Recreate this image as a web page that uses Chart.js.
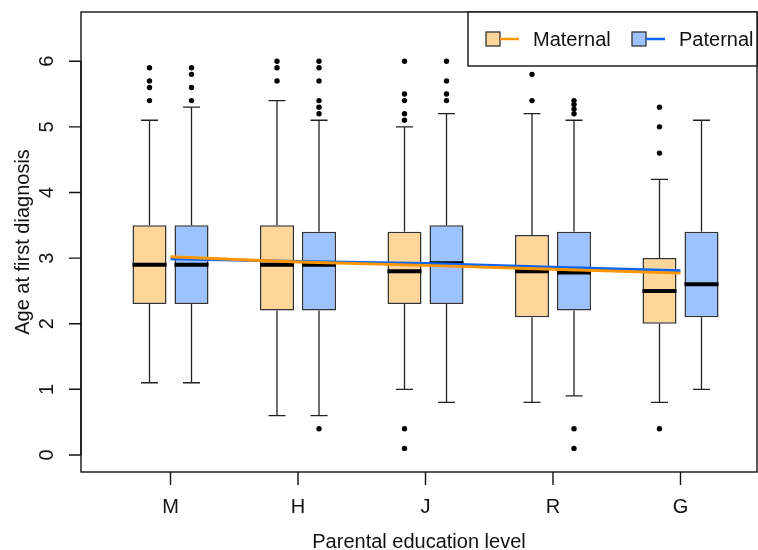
<!DOCTYPE html>
<html>
<head>
<meta charset="utf-8">
<title>Age at first diagnosis by parental education</title>
<script src="https://cdn.jsdelivr.net/npm/chart.js@4.4.1/dist/chart.umd.min.js"></script>
<style>
  html, body { margin: 0; padding: 0; background: #ffffff; }
  #wrap { width: 758px; height: 550px; }
</style>
</head>
<body>
<div id="wrap"><canvas id="boxChart" width="758" height="550"></canvas></div>
<script>
// --- 1. DATA ---
const categories = ['M', 'H', 'J', 'R', 'G'];
const categoryPos = [1, 2, 3, 4, 5];
const yTicks = [0, 1, 2, 3, 4, 5, 6];

const maternalLow = [1.1, 0.6, 1.0, 0.8, 0.8];
const maternalQ1 = [2.3, 2.2, 2.3, 2.1, 2.0];
const maternalMedian = [2.9, 2.9, 2.8, 2.8, 2.5];
const maternalQ3 = [3.5, 3.5, 3.4, 3.35, 3.0];
const maternalHigh = [5.1, 5.4, 5.0, 5.2, 4.2];
const maternalOutliers = [
    [5.4, 5.6, 5.7, 5.9],
    [5.7, 5.9, 6.0],
    [0.1, 0.4, 5.1, 5.2, 5.4, 5.5, 6.0],
    [5.4, 5.8],
    [0.4, 4.6, 5.0, 5.3]
];
const maternalMean = [3.02, 2.94, 2.89, 2.83, 2.77];

const paternalLow = [1.1, 0.6, 0.8, 0.9, 1.0];
const paternalQ1 = [2.3, 2.2, 2.3, 2.2, 2.1];
const paternalMedian = [2.9, 2.9, 2.92, 2.78, 2.6];
const paternalQ3 = [3.5, 3.4, 3.5, 3.4, 3.4];
const paternalHigh = [5.3, 5.1, 5.2, 5.1, 5.1];
const paternalOutliers = [
    [5.4, 5.6, 5.8, 5.9],
    [0.4, 5.2, 5.3, 5.4, 5.7, 5.9, 6.0],
    [5.4, 5.5, 5.7, 6.0],
    [0.1, 0.4, 5.2, 5.27, 5.34, 5.4],
    []
];
const paternalMean = [2.99, 2.95, 2.92, 2.86, 2.81];

// --- 2. STYLE ---
const FONT = "'Liberation Sans', Arial, Helvetica, sans-serif";
const matFill = '#FFD699';
const patFill = '#9DC3FF';
const matLine = '#FF9500';
const patLine = '#0A64F5';
const ink = '#111111';

const groups = {
    maternal: { low: maternalLow, q1: maternalQ1, med: maternalMedian, q3: maternalQ3, high: maternalHigh, out: maternalOutliers },
    paternal: { low: paternalLow, q1: paternalQ1, med: paternalMedian, q3: paternalQ3, high: paternalHigh, out: paternalOutliers }
};

function boxData(q1, q3) {
    return categoryPos.map((x, i) => ({ x: x, y: [q1[i], q3[i]] }));
}
function meanData(vals) {
    return categoryPos.map((x, i) => ({ x: x, y: vals[i] }));
}

// --- 3. PLUGIN: whiskers, medians, outliers, axes, legend ---
const boxExtras = {
    id: 'boxExtras',
    beforeDatasetsDraw(chart) {
        const ctx = chart.ctx;
        const y = chart.scales.y;
        chart.data.datasets.forEach((ds, di) => {
            if (!ds.group) return;
            const g = groups[ds.group];
            const meta = chart.getDatasetMeta(di);
            meta.data.forEach((bar, i) => {
                const x = bar.x;
                const cap = bar.width / 4;
                ctx.save();
                ctx.strokeStyle = '#222';
                ctx.lineWidth = 1.3;
                ctx.beginPath();
                ctx.moveTo(x, y.getPixelForValue(g.q3[i]));
                ctx.lineTo(x, y.getPixelForValue(g.high[i]));
                ctx.moveTo(x, y.getPixelForValue(g.q1[i]));
                ctx.lineTo(x, y.getPixelForValue(g.low[i]));
                ctx.moveTo(x - cap, y.getPixelForValue(g.high[i]));
                ctx.lineTo(x + cap, y.getPixelForValue(g.high[i]));
                ctx.moveTo(x - cap, y.getPixelForValue(g.low[i]));
                ctx.lineTo(x + cap, y.getPixelForValue(g.low[i]));
                ctx.stroke();
                ctx.fillStyle = '#000';
                g.out[i].forEach(v => {
                    ctx.beginPath();
                    ctx.arc(x, y.getPixelForValue(v), 2.7, 0, Math.PI * 2);
                    ctx.fill();
                });
                ctx.restore();
            });
        });
    },
    afterDatasetDraw(chart, args) {
        const ds = chart.data.datasets[args.index];
        if (!ds.group) return;
        const g = groups[ds.group];
        const ctx = chart.ctx;
        const y = chart.scales.y;
        ctx.save();
        ctx.strokeStyle = '#000';
        ctx.lineWidth = 4;
        args.meta.data.forEach((bar, i) => {
            const py = y.getPixelForValue(g.med[i]);
            ctx.beginPath();
            ctx.moveTo(bar.x - bar.width / 2, py);
            ctx.lineTo(bar.x + bar.width / 2, py);
            ctx.stroke();
        });
        ctx.restore();
    },
    afterDraw(chart) {
        const ctx = chart.ctx;
        const a = chart.chartArea;
        const xs = chart.scales.x;
        const ys = chart.scales.y;
        ctx.save();
        ctx.strokeStyle = ink;
        ctx.fillStyle = ink;
        ctx.lineWidth = 1.4;

        // plot box
        ctx.strokeRect(a.left, a.top, a.right - a.left, a.bottom - a.top);

        // y axis ticks and rotated labels
        ctx.font = '20px ' + FONT;
        ctx.beginPath();
        ctx.moveTo(a.left, ys.getPixelForValue(yTicks[0]));
        ctx.lineTo(a.left, ys.getPixelForValue(yTicks[yTicks.length - 1]));
        yTicks.forEach(t => {
            const py = ys.getPixelForValue(t);
            ctx.moveTo(a.left - 12, py);
            ctx.lineTo(a.left, py);
        });
        ctx.stroke();
        yTicks.forEach(t => {
            const py = ys.getPixelForValue(t);
            ctx.save();
            ctx.translate(a.left - 28, py);
            ctx.rotate(-Math.PI / 2);
            ctx.textAlign = 'center';
            ctx.textBaseline = 'alphabetic';
            ctx.fillText(String(t), 0, 0);
            ctx.restore();
        });

        // x axis ticks and labels
        ctx.beginPath();
        categoryPos.forEach(p => {
            const px = xs.getPixelForValue(p);
            ctx.moveTo(px, a.bottom);
            ctx.lineTo(px, a.bottom + 13);
        });
        ctx.stroke();
        ctx.textAlign = 'center';
        ctx.textBaseline = 'alphabetic';
        categories.forEach((c, i) => {
            ctx.fillText(c, xs.getPixelForValue(categoryPos[i]), a.bottom + 41);
        });

        // axis titles
        ctx.fillText('Parental education level', (a.left + a.right) / 2, a.bottom + 76);
        ctx.save();
        ctx.translate(29, (a.top + a.bottom) / 2);
        ctx.rotate(-Math.PI / 2);
        ctx.fillText('Age at first diagnosis', 0, 0);
        ctx.restore();

        // legend
        const lx = 468, ly = a.top, lw = a.right - lx, lh = 54;
        ctx.fillStyle = '#ffffff';
        ctx.fillRect(lx, ly, lw, lh);
        ctx.strokeStyle = ink;
        ctx.strokeRect(lx, ly, lw, lh);
        const items = [
            { label: 'Maternal', fill: matFill, line: matLine, x: 486 },
            { label: 'Paternal', fill: patFill, line: patLine, x: 632 }
        ];
        items.forEach(it => {
            const cy = ly + 27;
            ctx.fillStyle = it.fill;
            ctx.fillRect(it.x, cy - 7, 14, 14);
            ctx.strokeStyle = '#333';
            ctx.lineWidth = 1.3;
            ctx.strokeRect(it.x, cy - 7, 14, 14);
            ctx.strokeStyle = it.line;
            ctx.lineWidth = 2.5;
            ctx.beginPath();
            ctx.moveTo(it.x + 14, cy);
            ctx.lineTo(it.x + 33, cy);
            ctx.stroke();
            ctx.fillStyle = ink;
            ctx.textAlign = 'left';
            ctx.textBaseline = 'alphabetic';
            ctx.fillText(it.label, it.x + 47, cy + 7);
        });
        ctx.restore();
    }
};

// --- 4. CHART ---
document.addEventListener('DOMContentLoaded', function() {
    const ctx = document.getElementById('boxChart').getContext('2d');
    new Chart(ctx, {
        type: 'bar',
        data: {
            datasets: [
                {
                    type: 'line', label: 'Maternal', data: meanData(maternalMean), order: 0,
                    borderColor: matLine, borderWidth: 2.8, pointRadius: 0, tension: 0, fill: false
                },
                {
                    type: 'line', label: 'Paternal', data: meanData(paternalMean), order: 1,
                    borderColor: patLine, borderWidth: 2.8, pointRadius: 0, tension: 0, fill: false
                },
                {
                    type: 'bar', label: 'Maternal box', group: 'maternal', data: boxData(maternalQ1, maternalQ3), order: 2,
                    backgroundColor: matFill, borderColor: '#333', borderWidth: 1.5, borderSkipped: false,
                    categoryPercentage: 0.659, barPercentage: 0.81
                },
                {
                    type: 'bar', label: 'Paternal box', group: 'paternal', data: boxData(paternalQ1, paternalQ3), order: 3,
                    backgroundColor: patFill, borderColor: '#333', borderWidth: 1.5, borderSkipped: false,
                    categoryPercentage: 0.659, barPercentage: 0.81
                }
            ]
        },
        options: {
            responsive: false,
            animation: false,
            devicePixelRatio: 1,
            layout: { padding: { left: 81, right: 1, top: 12, bottom: 78 } },
            plugins: {
                legend: { display: false },
                tooltip: { enabled: false }
            },
            scales: {
                x: {
                    type: 'linear', min: 0.298, max: 5.6, offset: false, display: false,
                    // one tick per group so the bar ruler spacing is the group spacing
                    afterBuildTicks: scale => { scale.ticks = categoryPos.map(v => ({ value: v })); }
                },
                y: { type: 'linear', min: -0.26, max: 6.75, display: false }
            }
        },
        plugins: [boxExtras]
    });
});
</script>
</body>
</html>
